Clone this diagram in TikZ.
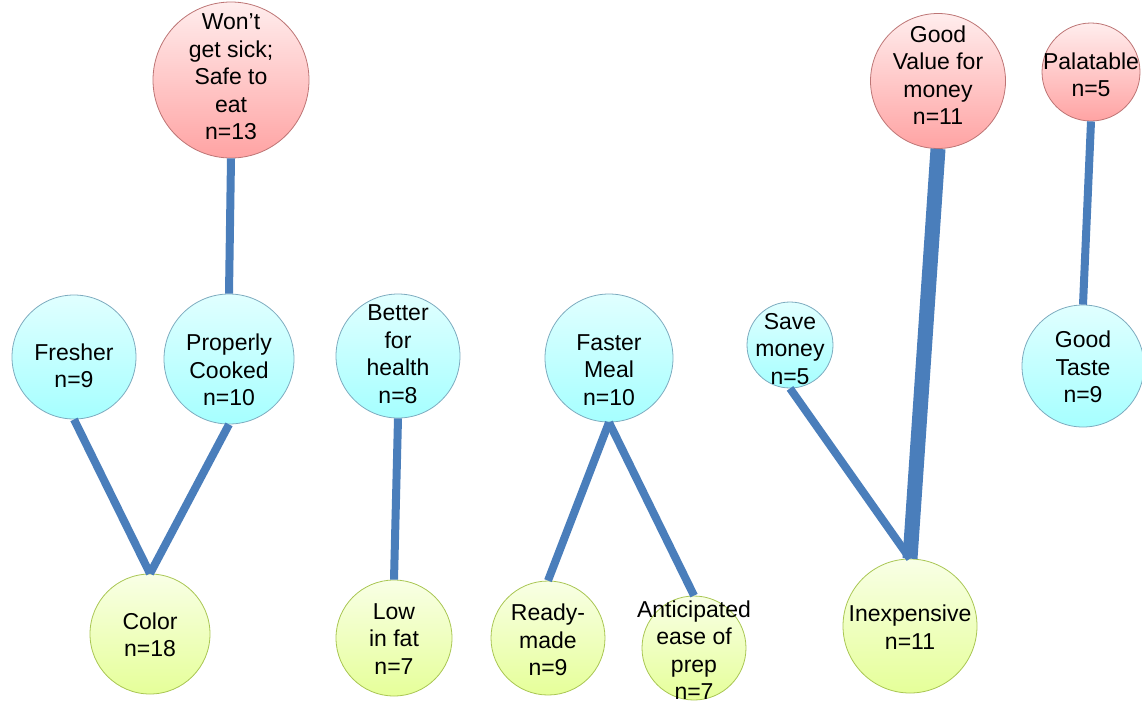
\documentclass[tikz,border=0pt]{standalone}
\usepackage{fontspec}
\setmainfont{Liberation Sans}
\begin{document}
\begin{tikzpicture}[x=1pt,y=-1pt,
  circ/.style={circle,draw,line width=0.8pt,inner sep=0pt,minimum size=#1},
  redc/.style={circ=#1,draw=red!35!gray!80,top color=red!7,bottom color=red!36!white},
  bluec/.style={circ=#1,draw=cyan!40!gray!90,top color=cyan!12,bottom color=cyan!35!white},
  greenc/.style={circ=#1,draw=lime!50!gray!90,top color=lime!10,bottom color=lime!40!white},
  txt/.style={align=center,font=\fontsize{23}{27.5}\selectfont,inner sep=0pt},
  link/.style={draw=linkblue,line width=8pt,line cap=butt},
]
\definecolor{linkblue}{HTML}{4A7EBB}
\useasboundingbox (0,0) rectangle (1142,705);
% circles
\node[redc=156pt] (sick) at (231,80) {};
\node[redc=135pt] (value) at (938,81) {};
\node[redc=98pt] (pal) at (1091,72) {};
\node[bluec=124pt] (fresh) at (74,357) {};
\node[bluec=130pt] (cooked) at (229,359) {};
\node[bluec=124pt] (health) at (398,356) {};
\node[bluec=128pt] (faster) at (609,358) {};
\node[bluec=86pt] (save) at (790,345) {};
\node[bluec=122pt] (taste) at (1083,366) {};
\node[greenc=120pt] (color) at (150,634) {};
\node[greenc=116pt] (fat) at (394,638) {};
\node[greenc=114pt] (ready) at (548,638) {};
\node[greenc=104pt] (antic) at (694,648) {};
\node[greenc=134pt] (inexp) at (910,626) {};
% connectors
\draw[link] (sick.south) -- (cooked.north);
\draw[link] (fresh.south) -- (color.north);
\draw[link] (cooked.south) -- (color.north);
\draw[link] (health.south) -- (fat.north);
\draw[link] (faster.south) -- (ready.north);
\draw[link] (faster.south) -- (antic.north);
\draw[link] (save.south) -- (inexp.north);
\draw[link,line width=15pt] (value.south) -- (inexp.north);
\draw[link] (pal.south) -- (taste.north);
% texts
\node[txt] (tsick) at (231,77) {Won’t\\get sick;\\Safe to\\eat\\n=13};
\node[txt] (tvalue) at (938,75) {Good\\Value for\\money\\n=11};
\node[txt] (tpal) at (1091,75) {Palatable\\n=5};
\node[txt] (tfresh) at (74,366) {Fresher\\n=9};
\node[txt] (tcooked) at (229,370) {Properly\\Cooked\\n=10};
\node[txt] (thealth) at (398,354) {Better\\for\\health\\n=8};
\node[txt] (tfaster) at (609,370) {Faster\\Meal\\n=10};
\node[txt] (tsave) at (790,349) {Save\\money\\n=5};
\node[txt] (ttaste) at (1083,367) {Good\\Taste\\n=9};
\node[txt] (tcolor) at (150,635) {Color\\n=18};
\node[txt] (tfat) at (394,639) {Low\\in fat\\n=7};
\node[txt] (tready) at (548,640) {Ready-\\made\\n=9};
\node[txt] (tantic) at (694,650) {Anticipated\\ease of\\prep\\n=7};
\node[txt] (tinexp) at (910,627) {Inexpensive\\n=11};
\end{tikzpicture}
\end{document}
